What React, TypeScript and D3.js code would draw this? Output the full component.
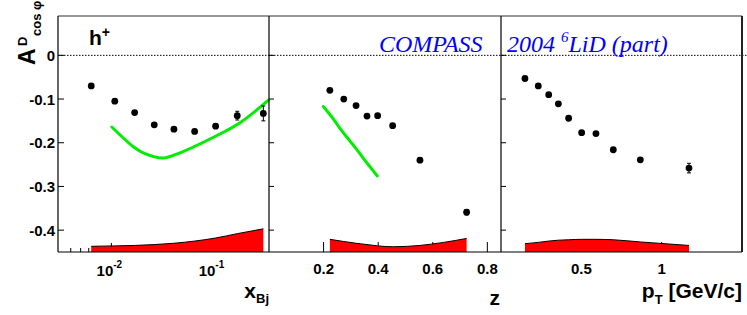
import React from "react";
import * as d3 from "d3";

// ---- data ----
const yTicks = [0, -0.1, -0.2, -0.3, -0.4];

const xBj = [0.00635, 0.0108, 0.0169, 0.0263, 0.041, 0.0654, 0.105, 0.171, 0.308];
const xBjA = [-0.070, -0.105, -0.131, -0.159, -0.169, -0.174, -0.162, -0.138, -0.133];
const xBjErr = [0.004, 0.004, 0.004, 0.004, 0.004, 0.004, 0.005, 0.010, 0.017];
const xBjCurveX = [0.0101, 0.0164, 0.0213, 0.032, 0.047, 0.0989, 0.182, 0.348];
const xBjCurveY = [-0.164, -0.209, -0.225, -0.235, -0.223, -0.188, -0.154, -0.102];
const xBjBandX = [0.00635, 0.0108, 0.0169, 0.0263, 0.041, 0.0654, 0.105, 0.171, 0.308];
const xBjBandY = [-0.437, -0.436, -0.435, -0.433, -0.430, -0.425, -0.418, -0.408, -0.397];
const xBjMajor = [0.01, 0.1];
const xBjMinor = [0.004, 0.005, 0.006, 0.007, 0.008, 0.009, 0.02, 0.03, 0.04, 0.05, 0.06, 0.07, 0.08, 0.09, 0.2, 0.3];
const xBjLabels = ["-2", "-1"];

const zVals = [0.223, 0.274, 0.319, 0.359, 0.398, 0.453, 0.553, 0.724];
const zA = [-0.080, -0.100, -0.115, -0.139, -0.138, -0.161, -0.240, -0.359];
const zErr = [0.003, 0.003, 0.003, 0.003, 0.004, 0.004, 0.005, 0.006];
const zCurveX = [0.199, 0.23, 0.26, 0.29, 0.321, 0.345, 0.37, 0.397];
const zCurveY = [-0.117, -0.141, -0.167, -0.191, -0.215, -0.235, -0.255, -0.276];
const zBandX = [0.223, 0.274, 0.319, 0.359, 0.398, 0.453, 0.553, 0.64, 0.724];
const zBandY = [-0.421, -0.426, -0.430, -0.433, -0.436, -0.438, -0.435, -0.428, -0.419];
const zTicks = [0.2, 0.4, 0.6, 0.8];

const ptVals = [0.149, 0.232, 0.297, 0.357, 0.421, 0.502, 0.591, 0.699, 0.867, 1.170];
const ptA = [-0.053, -0.070, -0.090, -0.111, -0.144, -0.177, -0.179, -0.216, -0.239, -0.258];
const ptErr = [0.003, 0.003, 0.003, 0.003, 0.003, 0.004, 0.004, 0.004, 0.005, 0.011];
const ptBandX = [0.149, 0.232, 0.297, 0.357, 0.421, 0.502, 0.591, 0.699, 0.867, 1.170];
const ptBandY = [-0.431, -0.428, -0.425, -0.423, -0.422, -0.421, -0.421, -0.422, -0.427, -0.435];
const ptTicks = [0.5, 1];
const ptTickLabels = ["0.5", "1"];

// ---- layout ----
const W = 747, H = 315;
const top = 16, bot = 252;
const P1 = [58, 269], P2 = [269, 501], P3 = [501, 742];
const sans = "'Liberation Sans', Arial, Helvetica, sans-serif";
const serif = "'Liberation Serif', 'Times New Roman', serif";

const y = d3.scaleLinear().domain([-0.45, 0.09]).range([bot, top]);
const x1 = d3.scaleLog().domain([0.003, 0.35]).range(P1);
const x2 = d3.scaleLinear().domain([0, 0.85]).range(P2);
const x3 = d3.scaleLinear().domain([0, 1.5]).range(P3);

function Points({ xs, ys, es, sx }: any) {
  return (
    <g>
      {xs.map((v: number, i: number) => {
        const cx = sx(v), cy = y(ys[i]);
        const y0 = y(ys[i] + es[i]), y1 = y(ys[i] - es[i]);
        return (
          <g key={i}>
            <line x1={cx} x2={cx} y1={y0} y2={y1} stroke="#000" strokeWidth={1} />
            <line x1={cx - 2} x2={cx + 2} y1={y0} y2={y0} stroke="#000" strokeWidth={1} />
            <line x1={cx - 2} x2={cx + 2} y1={y1} y2={y1} stroke="#000" strokeWidth={1} />
            <circle cx={cx} cy={cy} r={3.4} fill="#000" />
          </g>
        );
      })}
    </g>
  );
}

function Band({ xs, ys, sx }: any) {
  const pts: [number, number][] = xs.map((v: number, i: number) => [sx(v), y(ys[i])]);
  const topLine = d3.line().curve(d3.curveMonotoneX)(pts) || "";
  const area = d3
    .area<[number, number]>()
    .curve(d3.curveMonotoneX)
    .x((d) => d[0])
    .y0(bot)
    .y1((d) => d[1])(pts) || "";
  return (
    <g>
      <path d={area} fill="#ff0000" stroke="none" />
      <path d={topLine} fill="none" stroke="#000" strokeWidth={1} />
    </g>
  );
}

function Curve({ xs, ys, sx }: any) {
  const pts: [number, number][] = xs.map((v: number, i: number) => [sx(v), y(ys[i])]);
  const d = d3.line().curve(d3.curveCatmullRom)(pts) || "";
  return <path d={d} fill="none" stroke="#00ee00" strokeWidth={3} strokeLinecap="round" />;
}

function YTicks({ x0, len }: any) {
  return (
    <g>
      {yTicks.map((t) => (
        <line key={t} x1={x0} x2={x0 + len} y1={y(t)} y2={y(t)} stroke="#000" strokeWidth={1} />
      ))}
    </g>
  );
}

export default function App() {
  return (
    <svg width={W} height={H} style={{ position: "absolute", left: 0, top: 0, background: "#fff" }}>
      <rect x={0} y={0} width={W} height={H} fill="#fff" />

      {/* x ticks */}
      {xBjMinor.map((t) => (
        <line key={"m" + t} x1={x1(t)} x2={x1(t)} y1={bot} y2={bot - 4} stroke="#000" />
      ))}
      {xBjMajor.map((t) => (
        <line key={"M" + t} x1={x1(t)} x2={x1(t)} y1={bot} y2={bot - 9} stroke="#000" />
      ))}
      {zTicks.map((t) => (
        <line key={"z" + t} x1={x2(t)} x2={x2(t)} y1={bot} y2={bot - 10} stroke="#000" />
      ))}
      {ptTicks.map((t) => (
        <line key={"p" + t} x1={x3(t)} x2={x3(t)} y1={bot} y2={bot - 10} stroke="#000" />
      ))}

      {/* bands */}
      <Band xs={xBjBandX} ys={xBjBandY} sx={x1} />
      <Band xs={zBandX} ys={zBandY} sx={x2} />
      <Band xs={ptBandX} ys={ptBandY} sx={x3} />

      {/* zero line */}
      <line x1={P1[0]} x2={747} y1={y(0)} y2={y(0)} stroke="#000" strokeWidth={1} strokeDasharray="1.5 1.5" />

      {/* y ticks */}
      <YTicks x0={P1[0]} len={6} />
      <YTicks x0={P2[0]} len={5} />
      <YTicks x0={P3[0]} len={5} />

      {/* curves */}
      <Curve xs={xBjCurveX} ys={xBjCurveY} sx={x1} />
      <Curve xs={zCurveX} ys={zCurveY} sx={x2} />

      {/* points */}
      <Points xs={xBj} ys={xBjA} es={xBjErr} sx={x1} />
      <Points xs={zVals} ys={zA} es={zErr} sx={x2} />
      <Points xs={ptVals} ys={ptA} es={ptErr} sx={x3} />

      {/* frames */}
      <line x1={P1[0]} x2={P3[1]} y1={top} y2={top} stroke="#333" strokeWidth={1.2} />
      <line x1={P1[0]} x2={P3[1]} y1={bot} y2={bot} stroke="#000" strokeWidth={1.2} />
      <line x1={P1[0]} x2={P1[0]} y1={top} y2={bot} stroke="#000" strokeWidth={1.2} />
      <line x1={P2[0]} x2={P2[0]} y1={top} y2={bot} stroke="#000" strokeWidth={1.2} />
      <line x1={P3[0]} x2={P3[0]} y1={top} y2={bot} stroke="#000" strokeWidth={1.2} />
      <line x1={P3[1]} x2={P3[1]} y1={top} y2={bot} stroke="#222" strokeWidth={2} />

      {/* y tick labels */}
      {yTicks.map((t) => (
        <text key={"yl" + t} x={55} y={y(t) + 5.5} textAnchor="end" fontFamily={sans} fontWeight="bold" fontSize={15}>
          {t === 0 ? "0" : d3.format(".1f")(t).replace("−", "-")}
        </text>
      ))}

      {/* x tick labels */}
      {xBjMajor.map((t, i) => (
        <text key={"xl" + t} x={x1(t) - 2} y={276} textAnchor="middle" fontFamily={sans} fontWeight="bold" fontSize={15}>
          10
          <tspan fontSize={10} dy={-8}>{xBjLabels[i]}</tspan>
        </text>
      ))}
      {zTicks.map((t) => (
        <text key={"zl" + t} x={x2(t)} y={274} textAnchor="middle" fontFamily={sans} fontWeight="bold" fontSize={15}>
          {t.toFixed(1)}
        </text>
      ))}
      {ptTicks.map((t, i) => (
        <text key={"pl" + t} x={x3(t)} y={274} textAnchor="middle" fontFamily={sans} fontWeight="bold" fontSize={15}>
          {ptTickLabels[i]}
        </text>
      ))}

      {/* axis titles */}
      <text x={269} y={298} textAnchor="end" fontFamily={sans} fontWeight="bold" fontSize={21}>
        x<tspan fontSize={13} dy={5}>Bj</tspan>
      </text>
      <text x={500} y={305} textAnchor="end" fontFamily={sans} fontWeight="bold" fontSize={21}>
        z
      </text>
      <text x={742} y={298} textAnchor="end" fontFamily={sans} fontWeight="bold" fontSize={21}>
        p<tspan fontSize={13} dy={6}>T</tspan>
        <tspan dy={-6}> [GeV/c]</tspan>
      </text>

      {/* y title */}
      <g transform="translate(35,65) rotate(-90)" fontFamily={sans} fontWeight="bold">
        <text x={0} y={0} fontSize={23}>A</text>
        <text x={19} y={-8} fontSize={13}>D</text>
        <text x={29} y={6} fontSize={13}>cos φ</text>
      </g>

      {/* h+ */}
      <text x={89} y={45} fontFamily={sans} fontWeight="bold" fontSize={21}>
        h<tspan fontSize={14} dy={-8}>+</tspan>
      </text>

      {/* blue labels */}
      <text x={379} y={52} fontFamily={serif} fontStyle="italic" fontSize={24} fill="#0000ff">
        COMPASS
      </text>
      <text x={507} y={52} fontFamily={serif} fontStyle="italic" fontSize={24} fill="#0000ff">
        2004 <tspan fontSize={15} dy={-10}>6</tspan>
        <tspan dy={10}>LiD (part)</tspan>
      </text>
    </svg>
  );
}
